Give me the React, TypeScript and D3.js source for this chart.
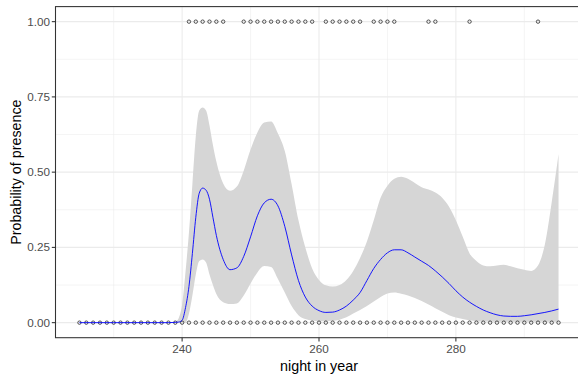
import React from "react";
import * as d3 from "d3";

// Observations (night in year, presence 0/1)
const absenceNights = d3.range(225, 296);
const presenceNights = [
  241, 242, 243, 244, 245, 246,
  249, 250, 251, 252, 253, 254, 255, 256, 257, 258, 259,
  261, 262, 263, 264, 265, 266,
  268, 269, 270, 271,
  276, 277, 282, 292,
];

// Smoothed fit and confidence band
const smoothNights = [
  225, 230, 235, 238, 239, 239.5, 240, 240.5, 241, 241.5, 242, 242.5, 243, 243.5, 244, 244.5, 245,
  246, 247, 248, 249, 250, 251, 252, 253, 254, 255, 256, 257, 258, 259, 260, 261, 262, 263, 264,
  265, 266, 267, 268, 269, 270, 271, 272, 273, 274, 275, 276, 277, 278, 279, 280, 281, 282, 283,
  284, 285, 286, 287, 288, 289, 290, 291, 292, 293, 294, 295,
];
const fitValues = [
  0, 0, 0, 0, 0.001, 0.002, 0.008, 0.05, 0.12, 0.23, 0.35, 0.43, 0.447, 0.44, 0.41, 0.35, 0.29,
  0.21, 0.176, 0.182, 0.22, 0.285, 0.355, 0.398, 0.41, 0.388, 0.32, 0.225, 0.14, 0.085, 0.055, 0.04,
  0.034, 0.035, 0.042, 0.055, 0.075, 0.1, 0.14, 0.18, 0.21, 0.232, 0.242, 0.242, 0.232, 0.218,
  0.204, 0.19, 0.172, 0.152, 0.13, 0.106, 0.085, 0.068, 0.054, 0.042, 0.033, 0.026, 0.022, 0.021,
  0.021, 0.023, 0.026, 0.03, 0.034, 0.039, 0.045,
];
const upperValues = [
  0, 0, 0, 0, 0.003, 0.015, 0.06, 0.17, 0.3, 0.46, 0.62, 0.705, 0.715, 0.705, 0.655, 0.59, 0.535,
  0.462, 0.438, 0.452, 0.505, 0.575, 0.632, 0.665, 0.668, 0.628, 0.57, 0.46, 0.34, 0.25, 0.18,
  0.142, 0.124, 0.12, 0.125, 0.142, 0.172, 0.215, 0.27, 0.34, 0.415, 0.455, 0.478, 0.485, 0.478,
  0.464, 0.45, 0.442, 0.432, 0.415, 0.385, 0.34, 0.285, 0.23, 0.205, 0.19, 0.187, 0.19, 0.192,
  0.187, 0.181, 0.176, 0.172, 0.19, 0.26, 0.4, 0.56,
];
const lowerValues = [
  0, 0, 0, 0, 0, 0, 0, 0, 0.03, 0.09, 0.16, 0.205, 0.21, 0.2, 0.16, 0.125, 0.095,
  0.068, 0.062, 0.064, 0.09, 0.13, 0.167, 0.188, 0.185, 0.145, 0.1, 0.055, 0.025, 0.012, 0.007,
  0.005, 0.005, 0.006, 0.01, 0.018, 0.03, 0.042, 0.055, 0.07, 0.085, 0.097, 0.1, 0.096, 0.09,
  0.082, 0.072, 0.06, 0.048, 0.036, 0.025, 0.017, 0.012, 0.008, 0.005, 0.004, 0.004, 0.003, 0.003,
  0.003, 0.003, 0.003, 0.003, 0.003, 0.003, 0.003, 0.003,
];

const xTicks = [240, 260, 280];
const xMinorTicks = [230, 250, 270, 290];
const yTicks = [0, 0.25, 0.5, 0.75, 1];
const yMinorTicks = [0.125, 0.375, 0.625, 0.875];

const W = 578;
const H = 376;
const panel = { left: 55.5, right: 582.5, top: 6.6, bottom: 337.7 };

export default function App() {
  const x = d3.scaleLinear().domain([221.5, 298.5]).range([panel.left, panel.right]);
  const y = d3.scaleLinear().domain([-0.05, 1.05]).range([panel.bottom, panel.top]);

  const band = smoothNights.map((n, i) => ({ n, fit: fitValues[i], lo: lowerValues[i], hi: upperValues[i] }));
  const area = d3
    .area<any>()
    .x((d) => x(d.n))
    .y0((d) => y(d.lo))
    .y1((d) => y(d.hi))
    .curve(d3.curveMonotoneX);
  const line = d3
    .line<any>()
    .x((d) => x(d.n))
    .y((d) => y(d.fit))
    .curve(d3.curveMonotoneX);

  const font = "'Liberation Sans', Arial, sans-serif";

  return (
    <svg
      width={W}
      height={H}
      style={{ position: "absolute", left: 0, top: 0, background: "#fff" }}
      fontFamily={font}
    >
      <defs>
        <clipPath id="panelClip">
          <rect x={panel.left} y={panel.top} width={panel.right - panel.left} height={panel.bottom - panel.top} />
        </clipPath>
      </defs>
      <rect x={0} y={0} width={W} height={H} fill="#fff" />
      <g clipPath="url(#panelClip)">
        {xMinorTicks.map((t) => (
          <line key={"xm" + t} x1={x(t)} x2={x(t)} y1={panel.top} y2={panel.bottom} stroke="#ebebeb" strokeWidth={0.55} />
        ))}
        {yMinorTicks.map((t) => (
          <line key={"ym" + t} x1={panel.left} x2={panel.right} y1={y(t)} y2={y(t)} stroke="#ebebeb" strokeWidth={0.55} />
        ))}
        {xTicks.map((t) => (
          <line key={"xg" + t} x1={x(t)} x2={x(t)} y1={panel.top} y2={panel.bottom} stroke="#ebebeb" strokeWidth={1.07} />
        ))}
        {yTicks.map((t) => (
          <line key={"yg" + t} x1={panel.left} x2={panel.right} y1={y(t)} y2={y(t)} stroke="#ebebeb" strokeWidth={1.07} />
        ))}
        <path d={area(band) || ""} fill="#d6d6d6" stroke="none" />
        {absenceNights.map((n) => (
          <circle key={"a" + n} cx={x(n)} cy={y(0)} r={1.7} fill="none" stroke="#111" strokeWidth={0.7} />
        ))}
        {presenceNights.map((n) => (
          <circle key={"p" + n} cx={x(n)} cy={y(1)} r={1.7} fill="none" stroke="#111" strokeWidth={0.7} />
        ))}
        <path d={line(band) || ""} fill="none" stroke="#0000ff" strokeWidth={0.9} />
      </g>
      <rect
        x={panel.left}
        y={panel.top}
        width={panel.right - panel.left}
        height={panel.bottom - panel.top}
        fill="none"
        stroke="#333"
        strokeWidth={1.07}
      />
      {xTicks.map((t) => (
        <g key={"xt" + t}>
          <line x1={x(t)} x2={x(t)} y1={panel.bottom} y2={panel.bottom + 3.7} stroke="#333" strokeWidth={1.07} />
          <text x={x(t)} y={353} textAnchor="middle" fontSize={11.7} fill="#4d4d4d">
            {t}
          </text>
        </g>
      ))}
      {yTicks.map((t) => (
        <g key={"yt" + t}>
          <line x1={panel.left - 3.7} x2={panel.left} y1={y(t)} y2={y(t)} stroke="#333" strokeWidth={1.07} />
          <text x={50} y={y(t)} dy="0.35em" textAnchor="end" fontSize={11.7} fill="#4d4d4d">
            {t.toFixed(2)}
          </text>
        </g>
      ))}
      <text x={(panel.left + panel.right) / 2} y={370.5} textAnchor="middle" fontSize={14.3} fill="#000">
        night in year
      </text>
      <text
        transform={`translate(20.5, ${(panel.top + panel.bottom) / 2}) rotate(-90)`}
        textAnchor="middle"
        fontSize={14.3}
        fill="#000"
      >
        Probability of presence
      </text>
    </svg>
  );
}
